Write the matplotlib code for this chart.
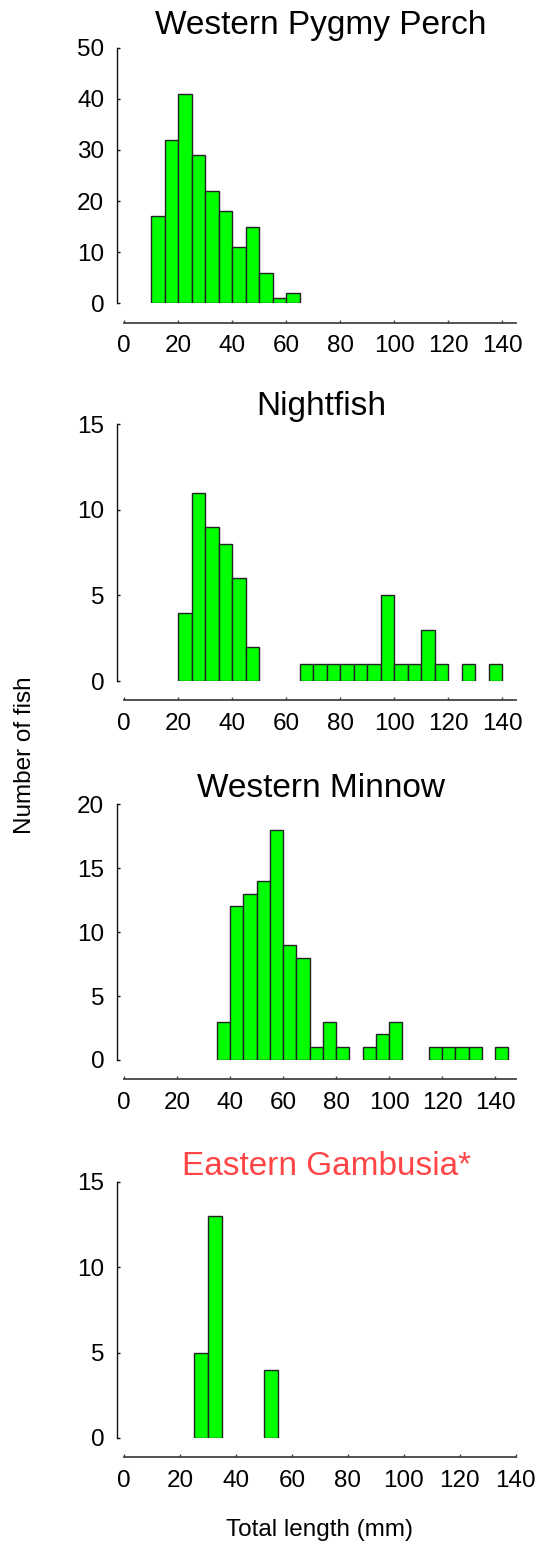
import matplotlib
matplotlib.use('Agg')
import matplotlib.pyplot as plt

plt.rcParams['font.family'] = ['Liberation Sans', 'DejaVu Sans']

# --- DATA (5 mm length classes: left edge of bin, number of fish) ---
titles = ['Western Pygmy Perch', 'Nightfish', 'Western Minnow', 'Eastern Gambusia*']

pygmy_bins = [10, 15, 20, 25, 30, 35, 40, 45, 50, 55, 60]
pygmy_counts = [17, 32, 41, 29, 22, 18, 11, 15, 6, 1, 2]

night_bins = [20, 25, 30, 35, 40, 45, 65, 70, 75, 80, 85, 90, 95, 100, 105, 110, 115, 125, 135]
night_counts = [4, 11, 9, 8, 6, 2, 1, 1, 1, 1, 1, 1, 5, 1, 1, 3, 1, 1, 1]

minnow_bins = [35, 40, 45, 50, 55, 60, 65, 70, 75, 80, 90, 95, 100, 115, 120, 125, 130, 140]
minnow_counts = [3, 12, 13, 14, 18, 9, 8, 1, 3, 1, 1, 2, 3, 1, 1, 1, 1, 1]

gambusia_bins = [25, 30, 50]
gambusia_counts = [5, 13, 4]

y_max = [50, 15, 20, 15]
y_ticks = [[0, 10, 20, 30, 40, 50], [0, 5, 10, 15], [0, 5, 10, 15, 20], [0, 5, 10, 15]]
x_ticks = [0, 20, 40, 60, 80, 100, 120, 140]

bins = [pygmy_bins, night_bins, minnow_bins, gambusia_bins]
counts = [pygmy_counts, night_counts, minnow_counts, gambusia_counts]

# --- LAYOUT (pixels) ---
W, H = 539, 1546
fig = plt.figure(figsize=(W / 100, H / 100), dpi=100)

left_px, right_px = 116.7, 515.7
tops = [47.7, 424.3, 804, 1182]
bottoms = [303.3, 681, 1060, 1438]
x_lims = [(-2.8, 145), (-2.8, 145), (-2.87, 147.8), (-2.72, 140)]
title_pads = [10, 6.5, 4.3, 3.6]
title_x = [0.512, 0.512, 0.511, 0.526]
title_colors = ['black', 'black', 'black', '#FF4545']

for i in range(4):
    ax = fig.add_axes([left_px / W, 1 - bottoms[i] / H,
                       (right_px - left_px) / W, (bottoms[i] - tops[i]) / H])
    ax.bar(bins[i], counts[i], width=5, align='edge',
           color='#00FF00', edgecolor='#222222', linewidth=1.0, zorder=3)

    ax.set_xlim(*x_lims[i])
    ax.set_ylim(0, y_max[i])
    ax.set_yticks(y_ticks[i])
    ax.set_xticks(x_ticks)

    for s in ['top', 'right']:
        ax.spines[s].set_visible(False)
    ax.spines['left'].set_bounds(0, y_max[i])
    ax.spines['left'].set_linewidth(1.0)
    ax.spines['left'].set_color('#111111')
    # x axis drawn as a separate line below the bars
    ax.spines['bottom'].set_position(('outward', 14))
    ax.spines['bottom'].set_bounds(0, x_lims[i][1])
    ax.spines['bottom'].set_linewidth(1.3)
    ax.spines['bottom'].set_color('#444444')

    ax.tick_params(axis='y', direction='in', length=2.5, width=1.0, pad=9.0,
                   labelsize=17.5, color='#111111')
    ax.tick_params(axis='x', direction='in', length=2.5, width=1.0, pad=9.0,
                   labelsize=17.5, color='#444444')

    ax.set_title(titles[i], fontsize=24, color=title_colors[i],
                 pad=title_pads[i], x=title_x[i])

fig.text(25 / W, 1 - 755 / H, 'Number of fish', rotation=90,
         ha='center', va='center', fontsize=17.5)
fig.text(320 / W, 1 - 1536 / H, 'Total length (mm)',
         ha='center', va='baseline', fontsize=17.5)

plt.savefig('out.png', dpi=100)
